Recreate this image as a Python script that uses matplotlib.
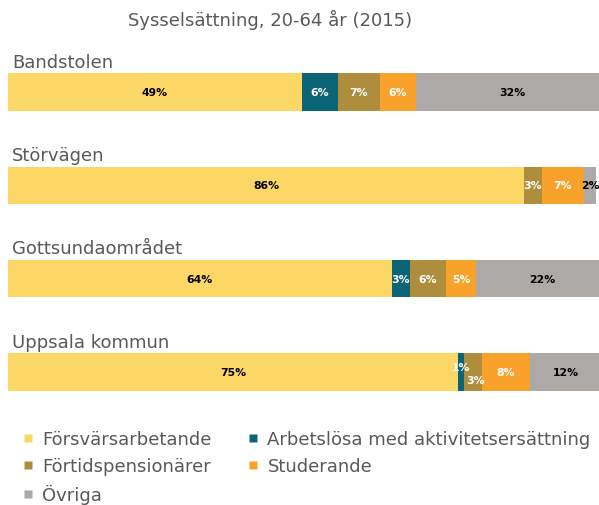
import matplotlib
matplotlib.use("Agg")
import matplotlib.pyplot as plt
from matplotlib.lines import Line2D

title = "Sysselsättning, 20-64 år (2015)"
areas = ["Bandstolen", "Störvägen", "Gottsundaområdet", "Uppsala kommun"]
series = ["Försvärsarbetande", "Arbetslösa med aktivitetsersättning",
          "Förtidspensionärer", "Studerande", "Övriga"]
forsvars = [49, 86, 64, 75]
arbetslosa = [6, 0, 3, 1]
fortids = [7, 3, 6, 3]
studerande = [6, 7, 5, 8]
ovriga = [32, 2, 22, 12]
values = [forsvars, arbetslosa, fortids, studerande, ovriga]
colors = ["#FDD766", "#0B6577", "#AE8E3C", "#F8A22B", "#ADA9A6"]
label_colors = ["black", "white", "white", "white", "black"]

W, H = 599, 506
fig = plt.figure(figsize=(W / 100, H / 100), dpi=100)
top_px, bot_px = 46.3, 419.7
ax = fig.add_axes([8 / W, 1 - bot_px / H, 1 - 8 / W, (bot_px - top_px) / H])
ax.set_xlim(0, 98.5)
ax.set_ylim(3.5, -0.5)
ax.axis("off")

bh = 0.4
for i, area in enumerate(areas):
    left = 0
    for s, vals in enumerate(values):
        v = vals[i]
        if v > 0:
            ax.barh(i, v, left=left, height=bh, color=colors[s], edgecolor="none")
            dx, dy = 0, 0
            if area == "Uppsala kommun" and s == 2:
                dy = 0.09
                dx = 0.4
            if area == "Uppsala kommun" and s == 1:
                dy = -0.05
            ax.text(left + v / 2 + dx, i + dy, f"{v}%", ha="center", va="center",
                    fontsize=7.8, fontweight="bold", color=label_colors[s])
        left += v
    ax.annotate(area, xy=(0, i - bh / 2), xytext=(3, 2), textcoords="offset points",
                ha="left", va="bottom", fontsize=13, color="#595959",
                annotation_clip=False)

fig.text(270 / W, 1 - 20 / H, title, ha="center", va="center", fontsize=13,
         color="#595959")

order = [0, 2, 4, 1, 3]
handles = [Line2D([], [], marker="s", linestyle="none", markersize=6,
                  markerfacecolor=colors[k], markeredgecolor="none") for k in order]
labels = [series[k] for k in order]
fig.legend(handles, labels, ncol=2, loc="upper left",
           bbox_to_anchor=(15 / W, 1 - 424 / H), frameon=False, fontsize=13,
           handlelength=0.6, handletextpad=0.5, columnspacing=2.0,
           labelspacing=0.5, labelcolor="#595959", borderaxespad=0)

fig.savefig("out.png", dpi=100)
